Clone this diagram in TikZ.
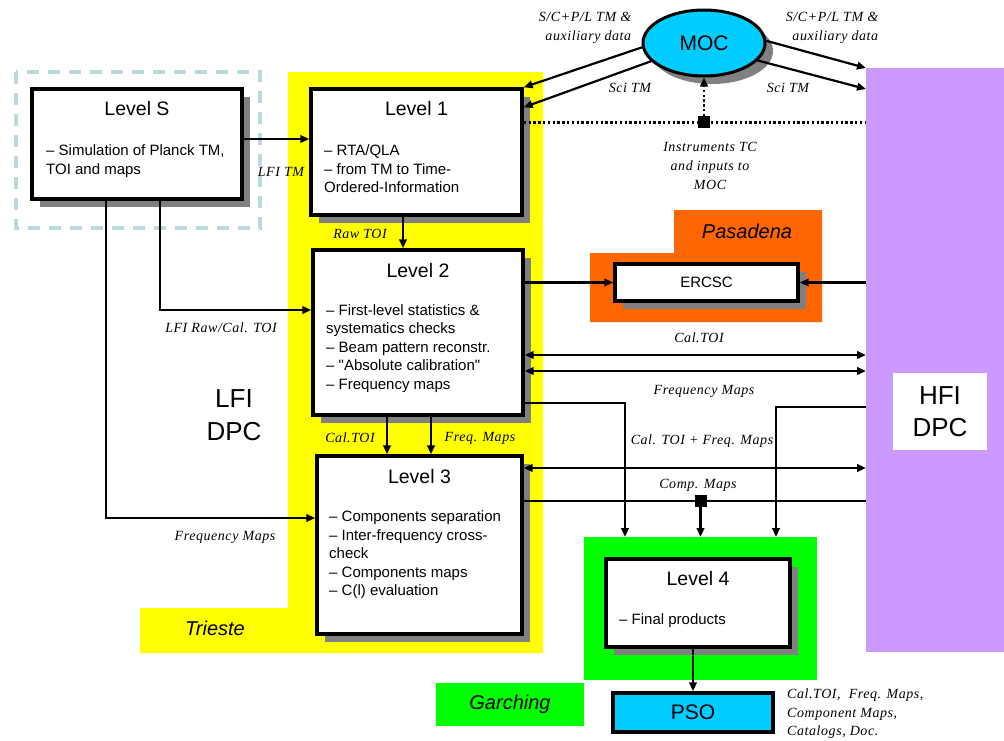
\documentclass[tikz,border=0pt]{standalone}
\usepackage{fontspec}
\setmainfont{Liberation Sans}[Ligatures=TeXOff]
\newfontfamily\serifl{Liberation Serif}[LetterSpace=4]
\usetikzlibrary{shadows,arrows.meta,calc,shapes.geometric}
\definecolor{ylw}{HTML}{FFFF00}
\definecolor{org}{HTML}{FF6600}
\definecolor{grn}{HTML}{00FF00}
\definecolor{purp}{HTML}{CC99FF}
\definecolor{mcyan}{HTML}{00CCFF}
\definecolor{shgray}{HTML}{808080}
\definecolor{dashc}{HTML}{BCDADE}
\begin{document}
\begin{tikzpicture}[x=1pt,y=-1pt,
  lvbox/.style={draw, line width=3.4pt, fill=white, inner sep=0,
    general shadow={fill=shgray, shadow xshift=8pt, shadow yshift=-8pt}},
  ttl/.style={font=\fontsize{19.5}{22}\selectfont, inner sep=0},
  body/.style={font=\fontsize{15}{18.5}\selectfont, align=left, inner sep=0, anchor=west},
  lab/.style={font=\serifl\itshape\fontsize{14}{19}\selectfont, inner sep=0},
  place/.style={font=\itshape\fontsize{20}{24}\selectfont, inner sep=0},
  big/.style={font=\fontsize{26}{33}\selectfont, align=center, inner sep=0},
  arr/.style={line width=2.2pt, -{Triangle[length=9pt,width=7.5pt]}},
  darr/.style={line width=2.2pt, {Triangle[length=9pt,width=7.5pt]}-{Triangle[length=9pt,width=7.5pt]}},
  ln/.style={line width=2.2pt},
  dotline/.style={line width=2.4pt, dash pattern=on 2.4pt off 2.4pt},
  sqr/.style={fill=black, minimum size=12pt, inner sep=0},
  region/.style={inner sep=0, outer sep=0},
]
\useasboundingbox (0,0) rectangle (1004,740);

% ---------- regions ----------
\fill[ylw] (288,72) -- (543,72) -- (543,653) -- (140,653) -- (140,608) -- (288,608) -- cycle;
\fill[org] (590,253) -- (674,253) -- (674,210) -- (822,210) -- (822,322) -- (590,322) -- cycle;
\node[region, fill=grn, minimum width=233pt, minimum height=143pt] (garch) at (700.5,608.5) {};
\node[region, fill=grn, minimum width=148pt, minimum height=43pt, place] (garchl) at (510,704.5) {Garching};
\node[region, fill=purp, minimum width=138pt, minimum height=584pt] (hfi) at (935,360) {};
\node[region, fill=white, minimum width=94pt, minimum height=77pt, big, font=\fontsize{26}{32}\selectfont] (hfil) at (940,411.5) {HFI\\DPC};
\draw[dashc, line width=3.4pt, dash pattern=on 12pt off 9pt] (16,72) rectangle (260,228);

\node[place] (trieste) at (215,628) {Trieste};
\node[place] (pasadena) at (747,231) {Pasadena};
\node[big] (lfidpc) at (234,415) {LFI\\DPC};

% ---------- boxes ----------
\node[lvbox, minimum width=210pt, minimum height=110pt] (ls) at (137,144) {};
\node[ttl] (lst) at ($(ls.north)+(0,21)$) {Level S};
\node[body] (lsb) at (46,161) {– Simulation of Planck TM,\\TOI and maps};

\node[lvbox, minimum width=211pt, minimum height=126pt] (l1) at (416.5,152) {};
\node[ttl] (l1t) at ($(l1.north)+(0,21)$) {Level 1};
\node[body] (l1b) at (324,169) {– RTA/QLA\\– from TM to Time-\\Ordered-Information};

\node[lvbox, minimum width=210pt, minimum height=165pt] (l2) at (418,332.5) {};
\node[ttl] (l2t) at ($(l2.north)+(0,22)$) {Level 2};
\node[body] (l2b) at (326,348.5) {– First-level statistics \&\\systematics checks\\– Beam pattern reconstr.\\– "Absolute calibration"\\– Frequency maps};

\node[lvbox, minimum width=205pt, minimum height=178pt] (l3) at (419.5,545) {};
\node[ttl] (l3t) at ($(l3.north)+(0,22)$) {Level 3};
\node[body] (l3b) at (329,555) {– Components separation\\– Inter-frequency cross-\\check\\– Components maps\\– C(l) evaluation};

\node[lvbox, minimum width=184pt, minimum height=88pt] (l4) at (698,603) {};
\node[ttl] (l4t) at ($(l4.north)+(0,21)$) {Level 4};
\node[body] (l4b) at (619,621) {– Final products};

\node[lvbox, minimum width=183pt, minimum height=37pt, font=\fontsize{15}{18}\selectfont] (ercsc) at (706.5,282.5) {ERCSC};

\node[draw, line width=3.4pt, fill=mcyan, inner sep=0, minimum width=160pt, minimum height=39pt, font=\fontsize{21}{24}\selectfont] (pso) at (693,712.5) {PSO};

\node[ellipse, draw, line width=3pt, fill=mcyan, inner sep=0, minimum width=122pt, minimum height=66pt,
  general shadow={fill=shgray, shadow xshift=8pt, shadow yshift=-8pt},
  font=\fontsize{21}{24}\selectfont] (moc) at (704,43) {MOC};

% ---------- connectors ----------
\draw[arr] (moc.184) -- (l1.north east);
\draw[arr] (moc.199) -- ($(l1.north east)+(0,20)$);
\draw[arr] (moc.2) -- (hfi.north west);
\draw[arr] (moc.342) -- ($(hfi.north west)+(0,21)$);

\coordinate (dl) at ($(l1.north east)+(0,35)$);
\draw[dotline] (dl) -- (dl -| hfi.west);
\node[sqr] (tcsq) at (dl -| moc.south) {};
\draw[dotline, -{Triangle[length=9pt,width=7.5pt]}] (tcsq) -- (moc.south);

\coordinate (ta) at ($(ls.east)+(0,-5)$);
\draw[arr] (ta) -- (ta -| l1.west);

\coordinate (tb) at ($(l1.south)+(-13.5,0)$);
\draw[arr] (tb) -- (tb |- l2.north);

\coordinate (tc) at ($(ls.south)+(23,0)$);
\coordinate (tc2) at ($(l2.west)+(0,-22.5)$);
\draw[arr] (tc) |- (tc2);

\coordinate (td) at ($(ls.south)+(-31,0)$);
\coordinate (td2) at ($(l3.west)+(0,-27)$);
\draw[arr] (td) |- (td2);

\coordinate (te) at ($(l2.south)+(-31,0)$);
\draw[arr] (te) -- (te |- l3.north);
\coordinate (tf) at ($(l2.south)+(13,0)$);
\draw[arr] (tf) -- (tf |- l3.north);

\draw[arr] (ercsc.west -| l2.east) -- (ercsc.west);
\draw[arr] (ercsc.east -| hfi.west) -- (ercsc.east);

\coordinate (tg) at ($(l2.east)+(0,22.5)$);
\draw[darr] (tg) -- (tg -| hfi.west);
\coordinate (th) at ($(l2.east)+(0,38.5)$);
\draw[darr] (th) -- (th -| hfi.west);

\coordinate (ti) at ($(l2.east)+(0,70.5)$);
\coordinate (ti2) at ($(garch.north west)+(41,0)$);
\draw[arr] (ti) -| (ti2);

\coordinate (tj) at ($(hfi.west)+(0,47)$);
\coordinate (tj2) at ($(garch.north west)+(192,0)$);
\draw[arr] (tj) -| (tj2);

\coordinate (tk) at ($(l3.east)+(0,-77)$);
\draw[darr] (tk) -- (tk -| hfi.west);

\coordinate (tl) at ($(l3.east)+(0,-44)$);
\draw[ln] (tl) -- (tl -| hfi.west);
\node[sqr] (cmsq) at (tl -| garch.north) {};
\draw[arr] (cmsq) -- (cmsq |- garch.north);

\draw[arr] (pso.north |- l4.south) -- (pso.north);

% ---------- labels ----------
\node[lab, align=right] (lb1) at (585,27.5) {S/C+P/L TM \&\\auxiliary data};
\node[lab, align=right] (lb2) at (832,27.5) {S/C+P/L TM \&\\auxiliary data};
\node[lab] (lb3) at (630,88) {Sci TM};
\node[lab] (lb4) at (788,88) {Sci TM};
\node[lab, align=center] (lb5) at (710,166) {Instruments TC\\and inputs to\\MOC};
\node[lab] (lb6) at (281,172) {LFI TM};
\node[lab] (lb7) at (360,234) {Raw TOI};
\node[lab] (lb8) at (221,328) {LFI Raw/Cal. TOI};
\node[lab] (lb9) at (225,537) {Frequency Maps};
\node[lab] (lb10) at (350,438) {Cal.TOI};
\node[lab] (lb11) at (480,438) {Freq. Maps};
\node[lab] (lb12) at (699,338) {Cal.TOI};
\node[lab] (lb13) at (704,391) {Frequency Maps};
\node[lab] (lb14) at (702,441) {Cal. TOI + Freq. Maps};
\node[lab] (lb15) at (698,485) {Comp. Maps};
\node[lab, align=left, anchor=west, font=\serifl\itshape\fontsize{14}{18.5}\selectfont] (lb16) at (787,714) {Cal.TOI,\ \ Freq. Maps,\\Component Maps,\\Catalogs, Doc.};
\end{tikzpicture}
\end{document}
